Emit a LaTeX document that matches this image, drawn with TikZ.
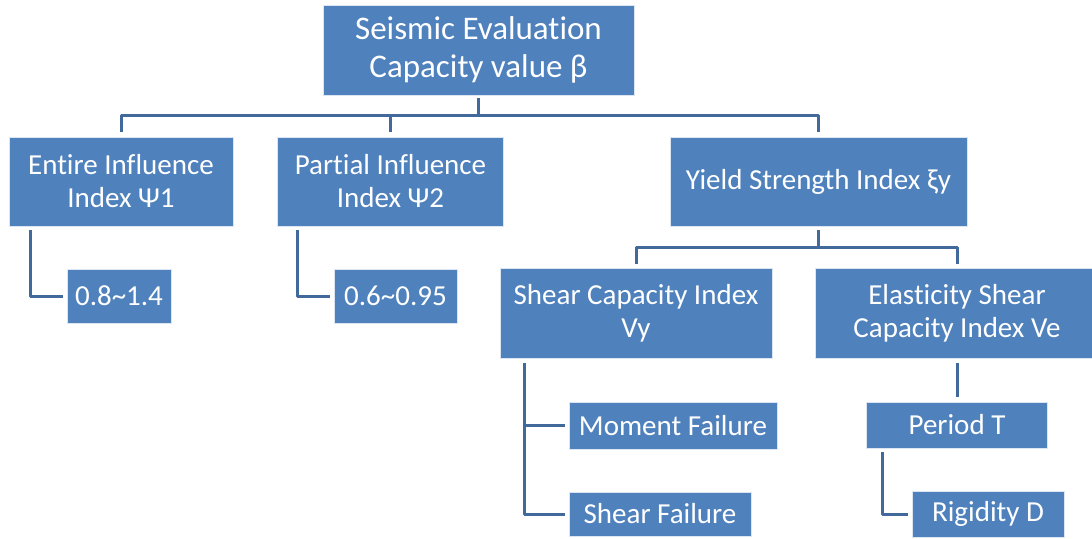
\documentclass[tikz,border=0pt]{standalone}
\usepackage{fontspec}
\setmainfont{Carlito}[Ligatures={NoCommon}]
\definecolor{boxblue}{HTML}{4F81BD}
\definecolor{linkblue}{HTML}{41699C}
\begin{document}
\begin{tikzpicture}[x=1pt,y=-1pt,
  box/.style={fill=boxblue, draw=white!80!boxblue, line width=0.6pt, text=white,
    inner sep=0pt, align=center, font=\fontsize{29}{33}\selectfont},
  link/.style={draw=linkblue, line width=3pt, line join=round}]
\clip (0,0) rectangle (1092,538);

% level 0
\node[box, minimum width=311pt, minimum height=90pt, font=\fontsize{33}{38}\selectfont]
  (top) at (478.5,50) {Seismic Evaluation\\Capacity value β};

% level 1
\node[box, minimum width=224pt, minimum height=89pt] (entire) at (121,181.5)
  {Entire Influence\\Index Ψ1};
\node[box, minimum width=226pt, minimum height=89pt] (partial) at (390.5,181.5)
  {Partial Influence\\Index Ψ2};
\node[box, minimum width=297pt, minimum height=89pt] (yield) at (818.5,181.5)
  {Yield Strength Index ξy};

% level 2
\node[box, minimum width=104pt, minimum height=54pt] (r1) at (119,296)
  {0.8\textasciitilde1.4};
\node[box, minimum width=123pt, minimum height=54pt] (r2) at (395.5,296)
  {0.6\textasciitilde0.95};
\node[box, minimum width=272pt, minimum height=90pt] (shearcap) at (636,313)
  {Shear Capacity Index\\Vy};
\node[box, minimum width=283pt, minimum height=90pt] (elast) at (957,313)
  {Elasticity Shear\\Capacity Index Ve};

% level 3
\node[box, minimum width=208pt, minimum height=47pt] (moment) at (673,425.5)
  {Moment Failure};
\node[box, minimum width=182pt, minimum height=44pt] (shearfail) at (660,514)
  {Shear Failure};
\node[box, minimum width=181pt, minimum height=46pt] (period) at (957,425)
  {Period T};
\node[box, minimum width=152pt, minimum height=46pt] (rigid) at (988,514)
  {Rigidity D};

% connectors
\draw[link] ([yshift=-3pt]top.south) -- ++(0,17) -| ([yshift=5pt]entire.north);
\draw[link] ([yshift=-3pt]top.south) -- ++(0,17) -| ([yshift=5pt]yield.north);
\draw[link] ([yshift=5pt]partial.north) -- ++(0,-17);

\draw[link] ([yshift=-4pt]yield.south) -- ++(0,17) -| ([yshift=4pt]shearcap.north);
\draw[link] ([yshift=-4pt]yield.south) -- ++(0,17) -| ([yshift=4pt]elast.north);

\draw[link] ([xshift=22pt,yshift=-4pt]entire.south west) |- ([xshift=-4pt]r1.west);
\draw[link] ([xshift=20.5pt,yshift=-4pt]partial.south west) |- ([xshift=-4pt]r2.west);

\draw[link] ([xshift=25pt,yshift=-5pt]shearcap.south west) |- ([xshift=-4pt]moment.west);
\draw[link] ([xshift=25pt,yshift=-5pt]shearcap.south west) |- ([xshift=-4pt]shearfail.west);

\draw[link] ([yshift=-5pt]elast.south) -- ([yshift=5pt]period.north);
\draw[link] ([xshift=16pt,yshift=-4pt]period.south west) |- ([xshift=-4pt]rigid.west);
\end{tikzpicture}
\end{document}
